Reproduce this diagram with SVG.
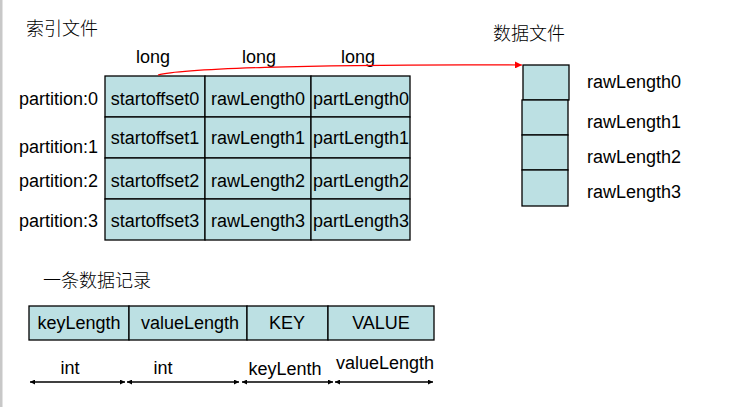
<svg xmlns="http://www.w3.org/2000/svg" width="745" height="407" viewBox="0 0 745 407">
<style>
.t{font-family:"Liberation Sans",Arial,sans-serif;font-size:18px;fill:#000}
.c{text-anchor:middle}
.zh{font-family:"Noto Sans CJK SC","Liberation Sans",sans-serif;font-size:18px;fill:#000;font-weight:300}
.cell{fill:#BCE0E3;stroke:#000;stroke-width:1.3}
.dim{stroke:#000;stroke-width:1.3;fill:none;marker-start:url(#a);marker-end:url(#a)}
</style>
<defs>
<marker id="a" viewBox="0 0 10 10" refX="10" refY="5" markerWidth="6" markerHeight="5" orient="auto-start-reverse" markerUnits="userSpaceOnUse"><path d="M0,0 L10,5 L0,10 z" fill="#000"/></marker>
<marker id="r" viewBox="0 0 10 10" refX="10" refY="5" markerWidth="8" markerHeight="7" orient="auto" markerUnits="userSpaceOnUse"><path d="M0,0 L10,5 L0,10 z" fill="#F00"/></marker>
</defs>
<rect x="0" y="0" width="745" height="407" fill="#fff"/>
<rect x="0" y="0" width="2.5" height="407" fill="#C8C8C8"/>
<text class="zh" x="26" y="35">索引文件</text>
<text class="zh" x="493" y="40">数据文件</text>
<text class="zh" x="43" y="287">一条数据记录</text>
<g id="type-labels">
<text class="t c" x="153" y="63">long</text>
<text class="t c" x="259" y="63">long</text>
<text class="t c" x="358" y="63">long</text>
</g>
<g id="partition-labels">
<text class="t" x="19" y="105">partition:0</text>
<text class="t" x="19" y="153">partition:1</text>
<text class="t" x="19" y="187">partition:2</text>
<text class="t" x="19" y="227">partition:3</text>
</g>
<g id="index-table">
<rect class="cell" x="105" y="76" width="100" height="41"/>
<rect class="cell" x="205" y="76" width="106" height="41"/>
<rect class="cell" x="311" y="76" width="99" height="41"/>
<rect class="cell" x="105" y="117" width="100" height="41"/>
<rect class="cell" x="205" y="117" width="106" height="41"/>
<rect class="cell" x="311" y="117" width="99" height="41"/>
<rect class="cell" x="105" y="158" width="100" height="41"/>
<rect class="cell" x="205" y="158" width="106" height="41"/>
<rect class="cell" x="311" y="158" width="99" height="41"/>
<rect class="cell" x="105" y="199" width="100" height="41"/>
<rect class="cell" x="205" y="199" width="106" height="41"/>
<rect class="cell" x="311" y="199" width="99" height="41"/>
<text class="t c" x="155" y="105">startoffset0</text>
<text class="t c" x="258" y="105">rawLength0</text>
<text class="t c" x="361" y="105">partLength0</text>
<text class="t c" x="155" y="144">startoffset1</text>
<text class="t c" x="258" y="144">rawLength1</text>
<text class="t c" x="361" y="144">partLength1</text>
<text class="t c" x="155" y="187">startoffset2</text>
<text class="t c" x="258" y="187">rawLength2</text>
<text class="t c" x="361" y="187">partLength2</text>
<text class="t c" x="155" y="227">startoffset3</text>
<text class="t c" x="258" y="227">rawLength3</text>
<text class="t c" x="361" y="227">partLength3</text>
</g>
<g id="data-file">
<rect class="cell" x="523" y="65" width="46" height="35"/>
<rect class="cell" x="522" y="100" width="46" height="35"/>
<rect class="cell" x="522" y="135" width="46" height="35"/>
<rect class="cell" x="522" y="170" width="46" height="36"/>
<text class="t" x="587" y="88">rawLength0</text>
<text class="t" x="587" y="128">rawLength1</text>
<text class="t" x="587" y="163">rawLength2</text>
<text class="t" x="587" y="198">rawLength3</text>
</g>
<g id="record">
<rect class="cell" x="29" y="306" width="100" height="34"/>
<rect class="cell" x="129" y="306" width="118" height="34"/>
<rect class="cell" x="247" y="306" width="81" height="34"/>
<rect class="cell" x="328" y="306" width="106" height="34"/>
<text class="t c" x="79" y="329">keyLength</text>
<text class="t c" x="190" y="329">valueLength</text>
<text class="t c" x="287" y="329">KEY</text>
<text class="t c" x="381" y="329">VALUE</text>
</g>
<g id="size-labels">
<text class="t c" x="70" y="374">int</text>
<text class="t c" x="163" y="374">int</text>
<text class="t c" x="285" y="375">keyLenth</text>
<text class="t c" x="385" y="369">valueLength</text>
</g>
<g id="connectors">
<path d="M158,75 C180,69 300,64 522,65" stroke="#F00" stroke-width="1.2" fill="none" marker-end="url(#r)"/>
<line class="dim" x1="30" y1="382" x2="125" y2="382"/>
<line class="dim" x1="127" y1="382" x2="239" y2="382"/>
<line class="dim" x1="242" y1="382" x2="333" y2="382"/>
<line class="dim" x1="335" y1="382" x2="433" y2="382"/>
</g>
</svg>
